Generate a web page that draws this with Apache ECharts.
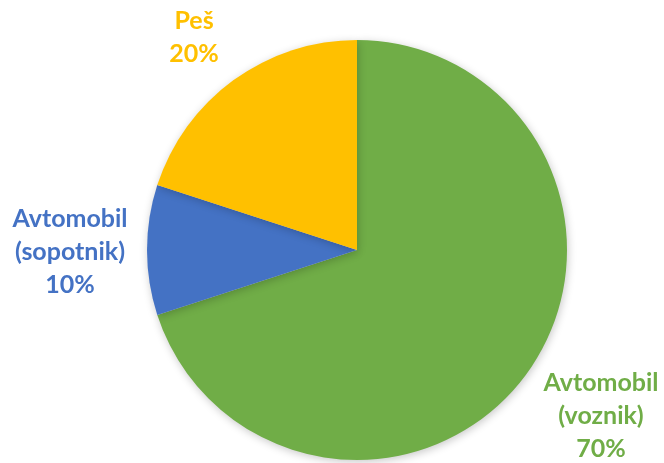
<!DOCTYPE html>
<html>
<head>
<meta charset="utf-8">
<style>
  html, body { margin: 0; padding: 0; background: #ffffff; }
  #chart { width: 664px; height: 463px; }
</style>
<script src="https://cdn.jsdelivr.net/npm/echarts@6/dist/echarts.min.js"></script>
</head>
<body>
<div id="chart"></div>
<script>
// Modal split of trips
const categories = ['Avtomobil\n(voznik)', 'Avtomobil\n(sopotnik)', 'Peš'];
const shares = [70, 10, 20];
const colors = ['#70AD47', '#4472C4', '#FFC000'];

const chart = echarts.init(document.getElementById('chart'));

// Where each slice's label sits (label centre, in px)
function labelSpot(i) {
  return [[601, 416], [70, 252], [194, 37]][i];
}

chart.setOption({
  animation: false,
  series: [{
    type: 'pie',
    center: [357, 250],
    radius: [0, 210],
    startAngle: 90,
    clockwise: true,
    data: categories.map((name, i) => ({
      name: name,
      value: shares[i],
      itemStyle: { color: colors[i] },
      label: { color: colors[i] }
    })),
    itemStyle: {
      borderWidth: 0,
      shadowBlur: 8,
      shadowColor: 'rgba(0,0,0,0.22)',
      shadowOffsetX: 1,
      shadowOffsetY: 2
    },
    label: {
      show: true,
      formatter: p => p.name + '\n' + p.value + '%',
      fontFamily: 'Lato, "Open Sans", sans-serif',
      fontWeight: 'bold',
      fontSize: 25,
      lineHeight: 33,
      align: 'center',
      verticalAlign: 'middle',
      overflow: 'none',
      width: 200
    },
    labelLine: { show: false },
    labelLayout: p => {
      const s = labelSpot(p.dataIndex);
      return { x: s[0], y: s[1], align: 'center', verticalAlign: 'middle' };
    }
  }]
});
</script>
</body>
</html>
